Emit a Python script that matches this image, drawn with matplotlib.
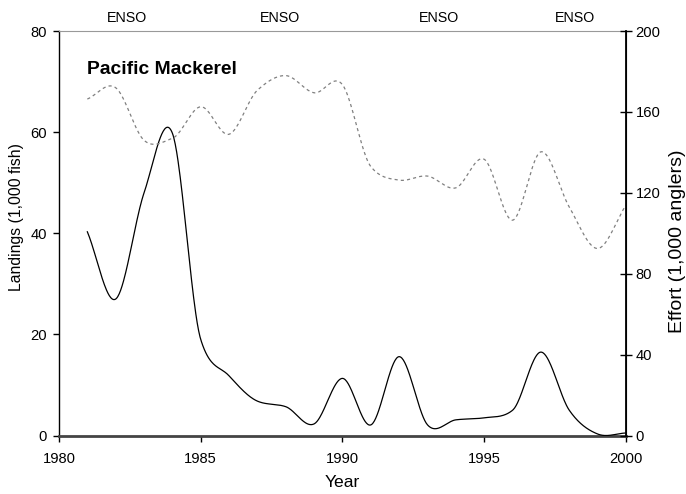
import numpy as np
import matplotlib
matplotlib.use("Agg")
import matplotlib.pyplot as plt

plt.rcParams['font.family'] = ['Liberation Sans', 'DejaVu Sans']

# Datos anuales
years = [1981, 1982, 1983, 1984, 1985, 1986, 1987, 1988, 1989, 1990,
         1991, 1992, 1993, 1994, 1995, 1996, 1997, 1998, 1999, 2000]
landings = [40.3, 27.0, 48.0, 59.8, 19.0, 11.8, 6.8, 5.7, 2.3, 11.3,
            2.1, 15.6, 2.1, 3.1, 3.5, 5.0, 16.5, 5.0, 0.3, 0.5]
effort = [166.4, 172.0, 146.0, 147.0, 162.6, 149.0, 170.8, 178.0, 169.5, 173.5,
          133.0, 126.3, 128.3, 122.5, 136.6, 106.5, 140.3, 113.0, 92.5, 114.0]
enso_years = [1982.4, 1987.8, 1993.4, 1998.2]


def smooth(x, y, n=40):
    # curva suavizada (Hermite, tangentes tipo Catmull-Rom)
    x = np.asarray(x, float)
    y = np.asarray(y, float)
    d = np.diff(y)
    m = np.empty_like(y)
    m[0], m[-1] = d[0], d[-1]
    for i in range(1, len(y) - 1):
        a, b = d[i - 1], d[i]
        m[i] = 0.5 * (a + b)
        # suaviza menos cuando una pendiente es mucho mayor que la otra
        if a * b > 0 and max(abs(a), abs(b)) > 3 * min(abs(a), abs(b)):
            m[i] = 0.5 * (m[i] + 2 * a * b / (a + b))
    t = np.linspace(0, 1, n, endpoint=False)
    h00 = 2 * t ** 3 - 3 * t ** 2 + 1
    h10 = t ** 3 - 2 * t ** 2 + t
    h01 = -2 * t ** 3 + 3 * t ** 2
    h11 = t ** 3 - t ** 2
    xs, ys = [], []
    for i in range(len(y) - 1):
        xs.extend(x[i] + t * (x[i + 1] - x[i]))
        ys.extend(h00 * y[i] + h10 * m[i] + h01 * y[i + 1] + h11 * m[i + 1])
    xs.append(x[-1])
    ys.append(y[-1])
    return np.array(xs), np.array(ys)


fig = plt.figure(figsize=(6.86, 4.94), dpi=100)
ax = fig.add_axes([0.086, 0.1184, 0.8265, 0.8186])
ax2 = ax.twinx()

lx, ly = smooth(years, landings)
ax.plot(lx, ly, color='black', lw=0.9, zorder=3)
ex, ey = smooth(years, effort)
ax2.plot(ex, ey, color='#808080', lw=0.9, ls=(0, (2.5, 2.5)))

ax.set_xlim(1980, 2000)
ax.set_ylim(0, 80)
ax2.set_ylim(0, 200)
ax.set_xticks([1980, 1985, 1990, 1995, 2000])
ax.set_yticks([0, 20, 40, 60, 80])
ax2.set_yticks([0, 40, 80, 120, 160, 200])

ax.tick_params(axis='x', labelsize=10.6, direction='out', length=4, width=1, pad=8)
ax.tick_params(axis='y', labelsize=10.6, direction='out', length=4, width=1, pad=4.5)
ax2.tick_params(axis='y', labelsize=10.6, direction='inout', length=8, width=1, pad=3)

ax.spines['top'].set_color('#999999')
ax.spines['bottom'].set_color('#444444')
ax.spines['bottom'].set_linewidth(2)
ax.spines['left'].set_linewidth(1)
ax2.spines['right'].set_linewidth(1.3)
for s in ['top', 'bottom', 'left']:
    ax2.spines[s].set_visible(False)

# etiquetas de ejes
fig.text(0.4995, 0.0223, 'Year', ha='center', va='center', fontsize=12.6)
fig.text(0.024, 0.5615, 'Landings (1,000 fish)', rotation=90,
         ha='center', va='center', fontsize=11.3)
fig.text(0.988, 0.512, 'Effort (1,000 anglers)', rotation=90,
         ha='center', va='center', fontsize=14)

ax.text(0.049, 0.905, 'Pacific Mackerel', transform=ax.transAxes,
        fontsize=13.9, fontweight='bold', va='center')

for yr in enso_years:
    ax.text(yr, 1.032, 'ENSO', transform=ax.get_xaxis_transform(),
            ha='center', va='center', fontsize=10.3)

fig.savefig('out.png', dpi=100)
